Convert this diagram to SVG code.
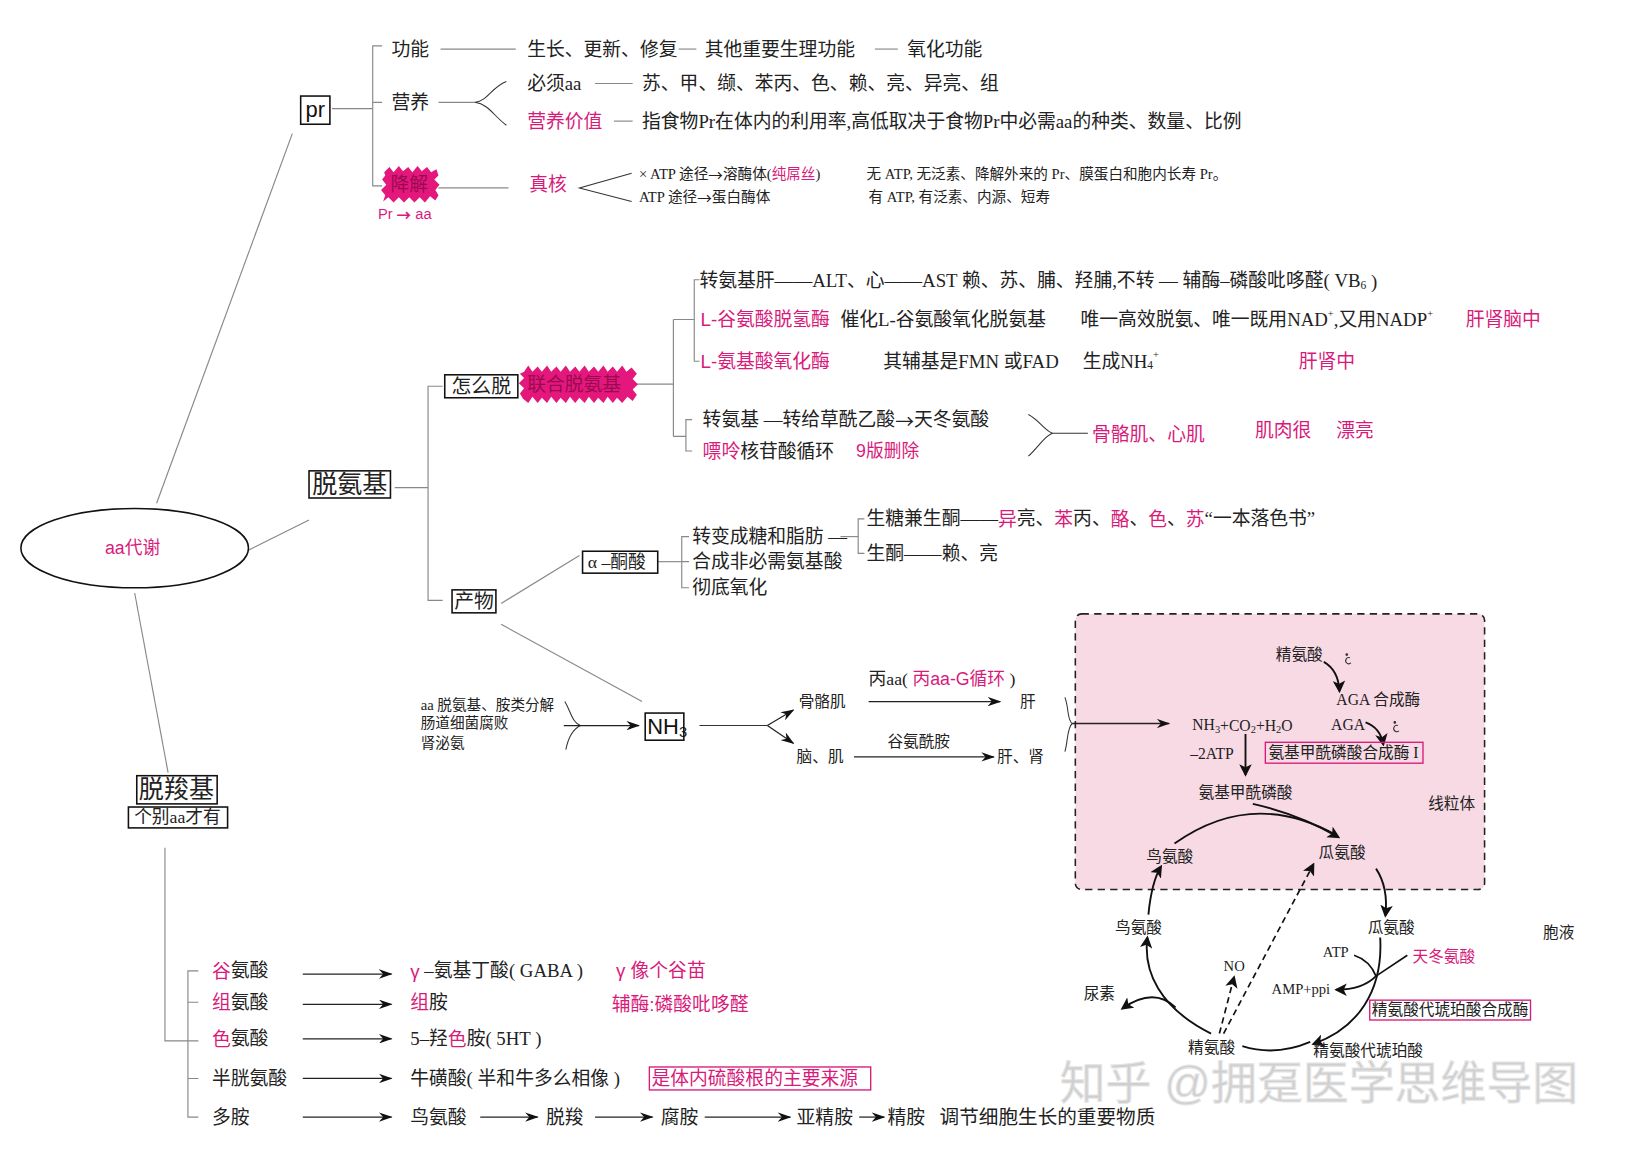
<svg xmlns="http://www.w3.org/2000/svg" width="1637" height="1160" viewBox="0 0 1637 1160">
<defs>
<style>
.t{font-family:'Liberation Serif','Noto Sans CJK SC',serif;fill:#222;dominant-baseline:central}
.m{font-family:'Liberation Sans','Noto Sans CJK SC',sans-serif;fill:#d81b7b;dominant-baseline:central}
.s{font-family:'Liberation Sans','Noto Sans CJK SC',sans-serif;fill:#111;dominant-baseline:central}
.cj{font-family:'Noto Sans CJK SC',sans-serif}
.ln{stroke:#888;stroke-width:1.1;fill:none}
.bk{stroke:#333;stroke-width:1;fill:none}
.bk2{stroke:#111;stroke-width:1.8;fill:none}
.ar{stroke:#222;stroke-width:1.2;fill:none;marker-end:url(#ah)}
.cv{stroke:#111;stroke-width:1.8;fill:none;marker-end:url(#ah2)}
.dsh{stroke:#111;stroke-width:1.6;fill:none;stroke-dasharray:6,4;marker-end:url(#ah2)}
.box{fill:#fff;stroke:#111;stroke-width:1.5}
.mbox{fill:none;stroke:#d81b7b;stroke-width:1.3}
.blob{fill:#e4177d}
.bt{font-family:'Liberation Sans','Noto Sans CJK SC',sans-serif;fill:#9b0a50;dominant-baseline:central}
</style>
<marker id="ah" viewBox="0 0 13 9" refX="12" refY="4.5" markerWidth="13" markerHeight="9" markerUnits="userSpaceOnUse" orient="auto"><path d="M0,0 L13,4.5 L0,9 L4,4.5z" fill="#111"/></marker>
<marker id="ah2" viewBox="0 0 12 12" refX="10" refY="6" markerWidth="12" markerHeight="12" markerUnits="userSpaceOnUse" orient="auto"><path d="M0,0 L12,6 L0,12 L3,6z" fill="#111"/></marker>
</defs>
<rect width="1637" height="1160" fill="#fff"/>
<g transform="scale(1.04401)">

<g id="n-mito-bg">
<rect x="1030" y="588" width="392" height="264" rx="6" fill="#f8dae5" stroke="#222" stroke-width="1.5" stroke-dasharray="7,5"/>
</g>

<g id="connectors">
<line class="ln" x1="280" y1="128" x2="150" y2="482"/>
<line class="ln" x1="238" y1="527" x2="296" y2="498"/>
<line class="ln" x1="129" y1="568" x2="161" y2="740"/>
<line class="ln" x1="318" y1="104" x2="357" y2="104"/>
<path class="ln" d="M366,44 H357 V178 H366 M357,98 H366"/>
<line class="ln" x1="422" y1="47" x2="494" y2="47"/>
<line class="ln" x1="650" y1="47" x2="667" y2="47"/>
<line class="ln" x1="838" y1="47" x2="860" y2="47"/>
<line class="ln" x1="420" y1="98" x2="455" y2="98"/>
<path class="bk" d="M485,78 C470,84 468,96 455,98 C468,100 472,110 485,120"/>
<line class="ln" x1="570" y1="80" x2="606" y2="80"/>
<line class="ln" x1="588" y1="116" x2="606" y2="116"/>
<line class="ln" x1="420" y1="180" x2="487" y2="180"/>
<path class="bk" d="M605,166 L555,180 L605,193"/>
<line class="ln" x1="378" y1="467" x2="410" y2="467"/>
<path class="ln" d="M424,370 H410 V575 H424"/>
<line class="ln" x1="608" y1="368" x2="645" y2="368"/>
<path class="ln" d="M645,306 V418 M645,306 H665 M670,268 H665 V346 H670 M645,418 H657 M663,402 H657 V432 H663"/>
<path class="bk" d="M985,397 C995,402 1000,412 1008,415 C1000,418 995,428 985,437"/>
<line class="bk" x1="1008" y1="415" x2="1042" y2="415"/>
<line class="ln" x1="480" y1="578" x2="555" y2="532"/>
<line class="ln" x1="630" y1="538" x2="653" y2="538"/>
<path class="ln" d="M660,514 H653 V563 H660 M653,538 H660"/>
<line class="ln" x1="805" y1="514" x2="822" y2="514"/>
<path class="ln" d="M828,497 H822 V530 H828"/>
<line class="ln" x1="480" y1="598" x2="615" y2="672"/>
<path class="bk" d="M541,672 C547,682 548,692 556,695 C548,699 544,708 542,718"/>
<line class="ar" x1="540" y1="695" x2="612" y2="695"/>
<line class="bk" x1="670" y1="695" x2="735" y2="695"/>
<line class="ar" x1="735" y1="695" x2="760" y2="680"/>
<line class="ar" x1="735" y1="695" x2="760" y2="712"/>
<line class="ar" x1="832" y1="672" x2="958" y2="672"/>
<line class="ar" x1="818" y1="725" x2="952" y2="725"/>
<path class="bk" d="M1020,668 C1024,678 1022,690 1027,693 C1022,697 1023,710 1020,720"/>
<line class="ar" x1="1027" y1="693" x2="1120" y2="693"/>
<path class="cv" d="M1268,634 Q1282,642 1283,662"/>
<path class="cv" d="M1308,692 Q1322,697 1325,713"/>
<line class="cv" x1="1193" y1="703" x2="1193" y2="742"/>
<path class="cv" d="M1200,770 Q1245,780 1282,802"/>
<path class="bk2" d="M1125,808 Q1200,755 1280,800"/>
<path class="cv" d="M1318,832 Q1330,850 1327,877"/>
<path class="cv" d="M1322,898 C1325,950 1300,985 1258,1000"/>
<path class="bk2" style="stroke-width:1.6" d="M1297,915 Q1312,920 1318,935"/>
<line class="bk2" style="stroke-width:1.6" x1="1348" y1="915" x2="1318" y2="935"/>
<path class="cv" d="M1318,935 Q1305,948 1280,948"/>
<path class="bk2" d="M1190,1002 Q1222,1012 1255,998"/>
<path class="cv" d="M1160,990 C1110,965 1095,930 1099,898"/>
<path class="cv" d="M1100,876 Q1103,845 1112,830"/>
<path class="cv" d="M1126,965 Q1105,945 1075,966"/>
<line class="dsh" x1="1168" y1="990" x2="1182" y2="936"/>
<line class="dsh" x1="1172" y1="990" x2="1258" y2="828"/>
<path class="ln" d="M158,812 V997 H180 M190,930 H180 V1070 H190 M180,960 H190 M180,997 H190 M180,1033 H190"/>
<line class="ar" x1="290" y1="933" x2="375" y2="933"/>
<line class="ar" x1="290" y1="962" x2="375" y2="962"/>
<line class="ar" x1="290" y1="995" x2="375" y2="995"/>
<line class="ar" x1="290" y1="1033" x2="375" y2="1033"/>
<line class="ar" x1="290" y1="1070" x2="375" y2="1070"/>
<line class="ar" x1="460" y1="1070" x2="515" y2="1070"/>
<line class="ar" x1="570" y1="1070" x2="625" y2="1070"/>
<line class="ar" x1="675" y1="1070" x2="757" y2="1070"/>
<line class="ar" x1="823" y1="1070" x2="847" y2="1070"/>
</g>

<g id="n-root">
<ellipse cx="129" cy="525" rx="109" ry="38" fill="#fff" stroke="#111" stroke-width="1.5"/>
<text class="m" x="127" y="525" font-size="17" text-anchor="middle">aa代谢</text>
</g>

<g id="n-pr">
<rect class="box" x="288" y="92" width="28" height="27"/>
<text class="s" x="302" y="105" font-size="21" text-anchor="middle">pr</text>
</g>
<g id="n-func">
<text class="t" x="375" y="47" font-size="18">功能</text>
<text class="t" x="505" y="47" font-size="18">生长、更新、修复</text>
<text class="t" x="675" y="47" font-size="18">其他重要生理功能</text>
<text class="t" x="869" y="47" font-size="18">氧化功能</text>
</g>
<g id="n-nutr">
<text class="t" x="375" y="98" font-size="18">营养</text>
<text class="t" x="505" y="80" font-size="18">必须aa</text>
<text class="t" x="615" y="80" font-size="18">苏、甲、缬、苯丙、色、赖、亮、异亮、组</text>
<text class="m" x="505" y="116" font-size="18">营养价值</text>
<text class="t" x="615" y="116" font-size="18">指食物Pr在体内的利用率,高低取决于食物Pr中必需aa的种类、数量、比例</text>
</g>
<g id="n-degr">
<polygon class="blob" points="368,165 373,160 377,165 382,159 386,164 391,160 395,165 400,159 404,164 409,160 413,165 418,162 420,168 416,172 421,177 417,182 420,187 417,192 412,188 407,194 402,189 397,194 392,189 387,194 382,189 377,194 372,189 367,193 369,187 365,182 370,177 366,172 369,168"/>
<text class="bt" x="374" y="177" font-size="18">降解</text>
<text class="m" x="362" y="205" font-size="14">Pr <tspan class="cj" font-weight="bold">→</tspan> aa</text>
<text class="m" x="507" y="177" font-size="18">真核</text>
<text class="t" x="612" y="167" font-size="14">× ATP 途径<tspan class="cj">→</tspan>溶酶体(<tspan class="m">纯屌丝</tspan>)</text>
<text class="t" x="612" y="189" font-size="14">ATP 途径<tspan class="cj">→</tspan>蛋白酶体</text>
<text class="t" x="830" y="167" font-size="14">无 ATP, 无泛素、降解外来的 Pr、膜蛋白和胞内长寿 Pr。</text>
<text class="t" x="832" y="189" font-size="14">有 ATP, 有泛素、内源、短寿</text>
</g>

<g id="n-deam">
<rect class="box" x="296" y="451" width="78" height="26"/>
<text class="t" x="335" y="464" font-size="24" text-anchor="middle">脱氨基</text>
</g>
<g id="n-how">
<rect class="box" x="426" y="359" width="70" height="22"/>
<text class="t" x="461" y="370" font-size="19" text-anchor="middle">怎么脱</text>
<polygon class="blob" points="502,356 506,350 510,356 515,351 519,356 524,350 528,356 533,351 537,356 542,350 546,356 551,351 555,356 560,350 564,356 569,351 573,356 578,350 582,356 587,351 591,356 596,350 600,356 605,352 610,358 606,363 611,368 606,373 610,378 606,384 601,380 596,386 591,381 587,386 582,380 578,386 573,381 569,386 564,380 560,386 555,381 551,386 546,380 542,386 537,381 533,386 528,380 524,386 519,381 515,386 510,380 506,386 501,382 498,377 502,372 497,367 502,362 498,358"/>
<text class="bt" x="505" y="368" font-size="18">联合脱氨基</text>
</g>
<g id="n-how-items">
<text class="t" x="670" y="269" font-size="18">转氨基肝——ALT、心——AST 赖、苏、脯、羟脯,不转 — 辅酶–磷酸吡哆醛( VB<tspan dy="4" font-size="11">6</tspan><tspan dy="-4"> )</tspan></text>
<text class="m" x="671" y="306" font-size="18">L-谷氨酸脱氢酶</text>
<text class="t" x="805" y="306" font-size="18">催化L-谷氨酸氧化脱氨基</text>
<text class="t" x="1035" y="306" font-size="18">唯一高效脱氨、唯一既用NAD<tspan dy="-6" font-size="10">+</tspan><tspan dy="6">,又用NADP</tspan><tspan dy="-6" font-size="10">+</tspan></text>
<text class="m" x="1404" y="306" font-size="18">肝肾脑中</text>
<text class="m" x="671" y="346" font-size="18">L-氨基酸氧化酶</text>
<text class="t" x="846" y="346" font-size="18">其辅基是FMN 或FAD</text>
<text class="t" x="1037" y="346" font-size="18">生成NH<tspan dy="4" font-size="11">4</tspan><tspan dy="-11" font-size="10">+</tspan></text>
<text class="m" x="1244" y="346" font-size="18">肝肾中</text>
<text class="t" x="673" y="402" font-size="18">转氨基 —转给草酰乙酸<tspan class="cj">→</tspan>天冬氨酸</text>
<text class="t" x="673" y="432" font-size="18"><tspan class="m">嘌呤</tspan>核苷酸循环</text>
<text class="m" x="820" y="432" font-size="17">9版删除</text>
<text class="m" x="1046" y="416" font-size="18">骨骼肌、心肌</text>
<text class="m" x="1202" y="412" font-size="18">肌肉很</text>
<text class="m" x="1280" y="412" font-size="18">漂亮</text>
</g>

<g id="n-prod">
<rect class="box" x="433" y="565" width="42" height="22"/>
<text class="t" x="454" y="576" font-size="19" text-anchor="middle">产物</text>
</g>
<g id="n-keto">
<rect class="box" x="558" y="528" width="72" height="21"/>
<text class="t" x="563" y="538" font-size="17">α –酮酸</text>
<text class="t" x="663" y="514" font-size="18">转变成糖和脂肪 —</text>
<text class="t" x="663" y="538" font-size="18">合成非必需氨基酸</text>
<text class="t" x="663" y="563" font-size="18">彻底氧化</text>
<text class="t" x="830" y="497" font-size="18">生糖兼生酮——<tspan class="m">异</tspan>亮、<tspan class="m">苯</tspan>丙、<tspan class="m">酪</tspan>、<tspan class="m">色</tspan>、<tspan class="m">苏</tspan>“一本落色书”</text>
<text class="t" x="830" y="530" font-size="18">生酮——赖、亮</text>
</g>

<g id="n-nh3">
<rect class="box" x="618" y="683" width="37" height="26"/>
<text class="s" x="620" y="696" font-size="21">NH<tspan dy="5" font-size="14">3</tspan></text>
<text class="t" x="403" y="675" font-size="14">aa 脱氨基、胺类分解</text>
<text class="t" x="403" y="693" font-size="14">肠道细菌腐败</text>
<text class="t" x="403" y="712" font-size="14">肾泌氨</text>
<text class="t" x="765" y="672" font-size="15">骨骼肌</text>
<text class="t" x="977" y="672" font-size="15">肝</text>
<text class="t" x="832" y="650" font-size="17">丙aa( <tspan class="m">丙aa-G循环</tspan> )</text>
<text class="t" x="763" y="725" font-size="15">脑、肌</text>
<text class="t" x="955" y="725" font-size="15">肝、肾</text>
<text class="t" x="850" y="710" font-size="15">谷氨酰胺</text>
</g>

<g id="n-urea">
<text class="t" x="1222" y="627" font-size="15">精氨酸</text>
<g fill="none" stroke="#333" stroke-width="1"><path d="M1293,630 a3,3 0 1 0 1,5"/><circle cx="1290" cy="627" r="0.8" fill="#333"/><path d="M1339,695 a3,3 0 1 0 1,5"/><circle cx="1336" cy="692" r="0.8" fill="#333"/></g>
<text class="t" x="1280" y="670" font-size="15">AGA 合成酶</text>
<text class="t" x="1142" y="694" font-size="15">NH<tspan dy="4" font-size="10">3</tspan><tspan dy="-4">+CO</tspan><tspan dy="4" font-size="10">2</tspan><tspan dy="-4">+H</tspan><tspan dy="4" font-size="10">2</tspan><tspan dy="-4">O</tspan></text>
<text class="t" x="1275" y="694" font-size="15">AGA</text>
<text class="t" x="1140" y="722" font-size="15">–2ATP</text>
<rect class="mbox" x="1212" y="711" width="151" height="20"/>
<text class="t" x="1215" y="721" font-size="15">氨基甲酰磷酸合成酶 I</text>
<text class="t" x="1148" y="759" font-size="15">氨基甲酰磷酸</text>
<text class="t" x="1368" y="770" font-size="15">线粒体</text>
<text class="t" x="1098" y="820" font-size="15">鸟氨酸</text>
<text class="t" x="1263" y="817" font-size="15">瓜氨酸</text>
<text class="t" x="1068" y="888" font-size="15">鸟氨酸</text>
<text class="t" x="1310" y="888" font-size="15">瓜氨酸</text>
<text class="t" x="1478" y="893" font-size="15">胞液</text>
<text class="t" x="1267" y="912" font-size="14">ATP</text>
<text class="m" x="1353" y="916" font-size="15">天冬氨酸</text>
<text class="t" x="1218" y="947" font-size="14">AMP+ppi</text>
<rect class="mbox" x="1312" y="958" width="154" height="19"/>
<text class="t" x="1314" y="967" font-size="15">精氨酸代琥珀酸合成酶</text>
<text class="t" x="1258" y="1006" font-size="15">精氨酸代琥珀酸</text>
<text class="t" x="1138" y="1003" font-size="15">精氨酸</text>
<text class="t" x="1172" y="925" font-size="14">NO</text>
<text class="t" x="1038" y="952" font-size="15">尿素</text>
</g>

<g id="n-decarb">
<rect class="box" x="131" y="743" width="77" height="27"/>
<text class="t" x="169" y="756" font-size="24" text-anchor="middle">脱羧基</text>
<rect class="box" x="123" y="773" width="95" height="20"/>
<text class="t" x="170" y="783" font-size="17" text-anchor="middle">个别aa才有</text>
</g>
<g id="n-decarb-items">
<text class="t" x="203" y="930" font-size="18"><tspan class="m">谷</tspan>氨酸</text>
<text class="t" x="203" y="960" font-size="18"><tspan class="m">组</tspan>氨酸</text>
<text class="t" x="203" y="995" font-size="18"><tspan class="m">色</tspan>氨酸</text>
<text class="t" x="203" y="1033" font-size="18">半胱氨酸</text>
<text class="t" x="203" y="1070" font-size="18">多胺</text>
<text class="t" x="393" y="930" font-size="18"><tspan class="m">γ</tspan> –氨基丁酸( GABA )</text>
<text class="m" x="590" y="930" font-size="18">γ 像个谷苗</text>
<text class="t" x="393" y="960" font-size="18"><tspan class="m">组</tspan>胺</text>
<text class="m" x="586" y="962" font-size="18">辅酶:磷酸吡哆醛</text>
<text class="t" x="393" y="995" font-size="18">5–羟<tspan class="m">色</tspan>胺( 5HT )</text>
<text class="t" x="393" y="1033" font-size="18">牛磺酸( 半和牛多么相像 )</text>
<rect class="mbox" x="622" y="1022" width="212" height="22"/>
<text class="m" x="624" y="1033" font-size="18">是体内硫酸根的主要来源</text>
<text class="t" x="393" y="1070" font-size="18">鸟氨酸</text>
<text class="t" x="523" y="1070" font-size="18">脱羧</text>
<text class="t" x="633" y="1070" font-size="18">腐胺</text>
<text class="t" x="763" y="1070" font-size="18">亚精胺</text>
<text class="t" x="850" y="1070" font-size="18">精胺</text>
<text class="t" x="900" y="1070" font-size="18.8">调节细胞生长的重要物质</text>
</g>

<text x="1015" y="1053" font-family="'Liberation Sans','Noto Sans CJK SC',sans-serif" font-size="44" fill="#cfcfcf" stroke="#e6e6e6" stroke-width="1">知乎 @拥趸医学思维导图</text>
</g>
</svg>
